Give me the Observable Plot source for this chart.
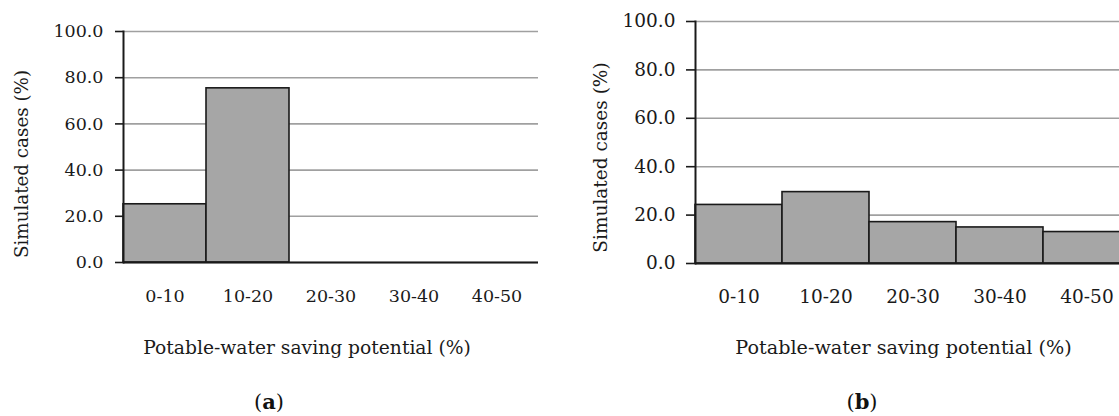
<!DOCTYPE html>
<html>
<head>
<meta charset="utf-8">
<script src="https://cdn.jsdelivr.net/npm/d3@7"></script>
<script src="https://cdn.jsdelivr.net/npm/@observablehq/plot@0.6"></script>
<style>
  html, body { margin: 0; padding: 0; background: #fff; }
  #wrap { position: relative; width: 1119px; height: 416px; overflow: hidden; background: #fff; font-family: "DejaVu Serif", serif; color: #1a1a1a; }
  .panel { position: absolute; top: 0; height: 416px; }
  .panel svg { max-width: none !important; display: block; }
  .cap { position: absolute; font-family: "DejaVu Serif", serif; font-size: 21px; color: #111; transform: translate(-50%, -50%); white-space: nowrap; line-height: 1; }
</style>
</head>
<body>
<div id="wrap">
  <div id="pa" class="panel" style="left:0px; width:560px"></div>
  <div id="pb" class="panel" style="left:560px; width:580px"></div>
  <div class="cap" style="left:269px; top:402px">(<b>a</b>)</div>
  <div class="cap" style="left:862px; top:402px">(<b>b</b>)</div>
</div>
<script>
const categories = ["0-10", "10-20", "20-30", "30-40", "40-50"];
const valuesA = [25.2, 75.4, 0, 0, 0];
const valuesB = [24.2, 29.5, 17.1, 14.9, 13.0];
const yTicks = [0, 20, 40, 60, 80, 100];
const xTitle = "Potable-water saving potential (%)";
const yTitle = "Simulated cases (%)";

function makePanel(values, o) {
  const data = categories.map((c, i) => ({cat: c, v: values[i]}));
  return Plot.plot({
    width: o.width, height: 416,
    marginLeft: o.ml, marginRight: o.mr, marginTop: o.mt, marginBottom: o.mb,
    style: {fontFamily: "DejaVu Serif, serif", fontSize: o.fs + "px", color: "#1a1a1a", background: "#fff", maxWidth: "none"},
    x: {type: "band", domain: categories, padding: 0},
    y: {domain: [0, 100]},
    marks: [
      Plot.gridY(yTicks, {stroke: "#a0a0a0", strokeOpacity: 1, strokeWidth: 1.6}),
      Plot.barY(data.filter(d => d.v > 0), {x: "cat", y: "v", fill: "#a6a6a6", stroke: "#1a1a1a", strokeWidth: 1.6}),
      Plot.ruleY([0], {stroke: "#1a1a1a", strokeWidth: 2}),
      Plot.frame({anchor: "left", stroke: "#1a1a1a", strokeWidth: 2}),
      Plot.axisY(yTicks, {tickSize: o.ts, tickPadding: o.tp, tickFormat: d => d.toFixed(1), stroke: "#1a1a1a", strokeWidth: 1.6, label: null, fill: "#1a1a1a", fontSize: o.fs}),
      Plot.axisX({tickSize: 0, tickPadding: o.xtp, label: null, fill: "#1a1a1a", fontSize: o.fs}),
      Plot.text([yTitle], {frameAnchor: "left", textAnchor: "middle", lineAnchor: "middle", rotate: -90, dx: o.ydx, dy: o.ydy, fontSize: o.yfs, fill: "#1a1a1a"}),
      Plot.text([xTitle], {frameAnchor: "bottom", textAnchor: "middle", lineAnchor: "middle", dx: o.xdx, dy: o.xdy, fontSize: o.tfs, fill: "#1a1a1a"})
    ]
  });
}

document.getElementById("pa").append(makePanel(valuesA, {
  width: 560, ml: 123, mr: 22, mt: 31, mb: 154, fs: 17.5, tfs: 18.7, yfs: 18.3,
  ts: 8, tp: 12, xtp: 27, ydx: -101.5, ydy: 17, xdx: -24, xdy: 86
}));
document.getElementById("pb").append(makePanel(valuesB, {
  width: 580, ml: 135, mr: 10, mt: 21, mb: 153, fs: 18.5, tfs: 19.2, yfs: 18.5,
  ts: 9, tp: 11, xtp: 26, ydx: -94, ydy: 15, xdx: -9.5, xdy: 84
}));
</script>
</body>
</html>
